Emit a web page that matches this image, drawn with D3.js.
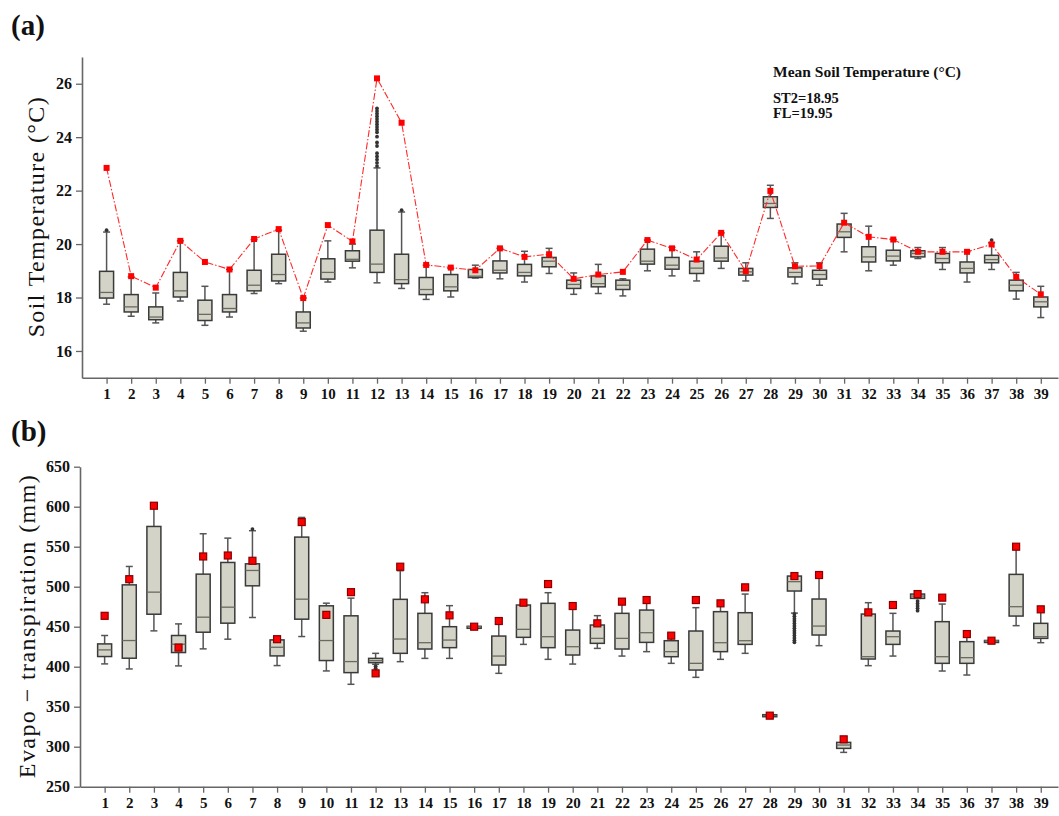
<!DOCTYPE html>
<html>
<head>
<meta charset="utf-8">
<script src="https://cdn.jsdelivr.net/npm/d3@7"></script>
<style>
  body { margin: 0; background: #fff; }
  svg { display: block; }
  text { font-family: "Liberation Serif", "Times New Roman", serif; }
</style>
</head>
<body>
<script>
// site numbers on x axis
var sites = d3.range(1, 40);

// (a) soil temperature box stats
var tLow  = [17.75,17.3,17.05,17.87,16.96,17.27,18.15,18.52,16.74,18.58,19.11,18.55,18.34,17.93,18.02,18.73,18.7,18.58,18.9,18.12,18.15,18.06,19.0,18.81,18.62,19.09,18.62,20.96,18.52,18.46,19.71,19.0,19.21,19.46,19.05,18.58,19.05,17.94,17.25];
var tQ1   = [17.98,17.46,17.17,18.02,17.14,17.46,18.25,18.62,16.86,18.69,19.36,18.94,18.52,18.11,18.25,18.75,18.92,18.81,19.15,18.34,18.4,18.3,19.25,19.06,18.9,19.36,18.84,21.37,18.77,18.69,20.25,19.33,19.37,19.52,19.3,18.92,19.3,18.25,17.65];
var tMed  = [18.19,17.65,17.27,18.25,17.37,17.59,18.46,18.86,17.05,18.94,19.43,19.25,18.67,18.3,18.4,18.8,19.02,18.94,19.36,18.49,18.52,18.46,19.36,19.21,19.1,19.48,18.96,21.52,18.94,18.86,20.46,19.52,19.55,19.65,19.46,19.09,19.42,18.46,17.84];
var tQ3   = [18.98,18.11,17.65,18.94,17.9,18.11,19.02,19.62,17.46,19.45,19.75,20.52,19.62,18.75,18.86,19.05,19.37,19.24,19.5,18.65,18.81,18.65,19.81,19.5,19.36,19.92,19.09,21.77,19.11,19.02,20.75,19.9,19.77,19.75,19.65,19.33,19.58,18.65,18.02];
var tHigh = [20.45,18.77,18.17,20.12,18.42,19.05,20.17,20.52,17.98,20.12,20.0,22.85,21.2,19.21,19.09,19.21,19.84,19.73,19.84,18.92,19.24,18.7,20.15,19.88,19.71,20.42,19.3,22.2,19.3,19.3,21.15,20.67,20.17,19.87,19.87,19.71,20.05,18.94,18.42];
var tMean = [22.85,18.8,18.37,20.12,19.33,19.05,20.19,20.56,17.98,20.71,20.1,26.2,24.54,19.22,19.12,19.02,19.84,19.52,19.62,18.7,18.86,18.96,20.15,19.84,19.42,20.42,18.98,21.99,19.17,19.18,20.8,20.27,20.17,19.71,19.71,19.71,19.99,18.77,18.12];
// outliers as [site, value]
var tOut = [[1,20.52],[13,21.27],[37,20.15],
  [12,25.08],[12,24.98],[12,24.88],[12,24.78],[12,24.68],[12,24.58],[12,24.48],[12,24.38],[12,24.28],[12,24.18],[12,24.02],
  [12,23.8],[12,23.67],[12,23.4],[12,23.28],[12,23.16],[12,23.04],[12,22.92]];

// (b) evapotranspiration box stats
var eLow  = [403.5,397.2,444.8,401,422.3,434.4,461.5,401.4,437.7,394.7,378,403,406.3,410.4,410.4,449,391.7,427.9,409.2,403.3,422.9,413.3,418.8,404.2,386.7,409.2,416.7,337,467,426.3,292.9,401.3,413.3,485.4,394.6,389.6,432,451.3,430];
var eQ1   = [412.7,410.6,465.6,417.7,443.1,454.4,501.1,413.5,459.4,407.7,392.6,405,416.7,422.1,423.8,449.5,402.1,436.7,423.8,414.6,429.2,422.1,430.4,412.5,395.8,418.8,427.9,338,494.6,439.6,297.9,409.6,427.9,485.4,404.2,404.2,432.2,463.3,435.4];
var eMed  = [421,432.7,493.2,428.1,461.9,474.4,520.3,424.3,484.4,432.7,406.4,407.5,434.6,430,433.3,450,413.3,446.7,437.5,425,435.4,435.4,442.5,418.8,404.2,430,432.5,339,506.3,450.8,302.1,412.5,437.5,488.3,412.5,411.3,432.5,475,437.5];
var eQ3   = [428.5,502.3,575.3,439,515.7,530.3,528.6,433.5,562,476.1,463.6,410.4,484.2,466.7,450,450.5,438.3,477.1,479.2,445.8,452.1,466.7,470.8,432.5,444.6,468.8,467.5,340,513.3,484.6,305.4,465.8,444.6,490.8,456.3,431.3,432.8,515.4,454.2];
var eHigh = [439,525.3,604.5,453.5,566.2,560.7,570,435,586.6,479.4,485.7,416.7,520,492.5,476.3,451,454.2,480,492.5,475.8,463.8,480,480,438.8,473.8,477.1,490.8,341,513.3,514.6,312.5,480,466.7,491.7,478.3,438.8,433,550,471.7];
var eMean = [463.6,509.4,601.2,423.9,537.8,539,532.4,434.4,580.8,464.8,493.2,391.7,525,484.2,464.2,450,457.1,480,503.3,475.8,454.2,481.3,483.3,438.8,483.3,479.2,499.2,338.8,513.3,514.6,309.2,467.9,477.1,490.8,486.3,440.8,432.5,550,471.7];
var eOut = [[7,572],[12,400.5],[12,398],
  [29,466],[29,463],[29,460],[29,457],[29,454],[29,451],[29,448],[29,445],[29,442],[29,439],[29,436],[29,433],[29,430.5],
  [34,482],[34,479],[34,476],[34,473],[34,470]];

var tTicks = [16, 18, 20, 22, 24, 26];
var eTicks = [250, 300, 350, 400, 450, 500, 550, 600, 650];

var W = 1059, H = 816;
var svg = d3.select("body").append("svg").attr("width", W).attr("height", H);

var boxFill = "#d3d3c7", boxLine = "#3a3a3a";

function panel(o) {
  var g = svg.append("g");
  var x = d3.scaleLinear().domain([0, 39.7]).range([o.left, 1058]);
  var y = d3.scaleLinear().domain(o.ydom).range([o.bottom, o.top]);

  // axes
  var xa = g.append("g").attr("transform", "translate(0," + o.bottom + ")")
    .call(d3.axisBottom(x).tickValues(sites).tickFormat(d3.format("d")).tickSize(6).tickSizeOuter(0).tickPadding(5));
  var ya = g.append("g").attr("transform", "translate(" + o.left + ",0)")
    .call(d3.axisLeft(y).tickValues(o.ticks).tickSize(6).tickSizeOuter(0).tickPadding(4));
  [xa, ya].forEach(function(a, k) {
    a.select(".domain").attr("stroke", "#666").attr("stroke-width", 1.6);
    a.selectAll(".tick line").attr("stroke", "#666").attr("stroke-width", 1.3);
    a.selectAll(".tick text").attr("fill", "#111").style("font-size", k ? "16px" : "15px").style("font-weight", "bold")
      .style("font-family", '"Liberation Serif", serif');
  });

  var bw = 14, cw = 7;
  var b = g.append("g").selectAll("g").data(sites).enter().append("g");
  var s = o.stats;
  // whiskers
  b.append("line").attr("x1", function(d) { return x(d); }).attr("x2", function(d) { return x(d); })
    .attr("y1", function(d, i) { return y(s.high[i]); }).attr("y2", function(d, i) { return y(s.low[i]); })
    .attr("stroke", "#555").attr("stroke-width", 1.5);
  b.append("line").attr("x1", function(d) { return x(d) - cw / 2; }).attr("x2", function(d) { return x(d) + cw / 2; })
    .attr("y1", function(d, i) { return y(s.high[i]); }).attr("y2", function(d, i) { return y(s.high[i]); })
    .attr("stroke", "#555").attr("stroke-width", 1.5);
  b.append("line").attr("x1", function(d) { return x(d) - cw / 2; }).attr("x2", function(d) { return x(d) + cw / 2; })
    .attr("y1", function(d, i) { return y(s.low[i]); }).attr("y2", function(d, i) { return y(s.low[i]); })
    .attr("stroke", "#555").attr("stroke-width", 1.5);
  // box
  b.append("rect").attr("x", function(d) { return x(d) - bw / 2; }).attr("width", bw)
    .attr("y", function(d, i) { return y(s.q3[i]); })
    .attr("height", function(d, i) { return Math.max(2, y(s.q1[i]) - y(s.q3[i])); })
    .attr("fill", boxFill).attr("stroke", boxLine).attr("stroke-width", 1.5);
  b.append("line").attr("x1", function(d) { return x(d) - bw / 2; }).attr("x2", function(d) { return x(d) + bw / 2; })
    .attr("y1", function(d, i) { return y(s.med[i]); }).attr("y2", function(d, i) { return y(s.med[i]); })
    .attr("stroke", "#6a6a60").attr("stroke-width", 1.3);

  // outliers
  g.append("g").selectAll("circle").data(o.out).enter().append("circle")
    .attr("cx", function(d) { return x(d[0]); }).attr("cy", function(d) { return y(d[1]); })
    .attr("r", 1.9).attr("fill", "#333");

  // means
  if (o.meanLine) {
    g.append("path").datum(sites)
      .attr("d", d3.line().x(function(d) { return x(d); }).y(function(d, i) { return y(s.mean[i]); }))
      .attr("fill", "none").attr("stroke", "#ff2a2a").attr("stroke-width", 1.1)
      .attr("stroke-dasharray", "7,2,1.5,2");
  }
  var ms = o.markSize;
  g.append("g").selectAll("rect").data(sites).enter().append("rect")
    .attr("x", function(d) { return x(d) - ms / 2; }).attr("y", function(d, i) { return y(s.mean[i]) - ms / 2; })
    .attr("width", ms).attr("height", ms)
    .attr("fill", "#f00").attr("stroke", o.markStroke).attr("stroke-width", o.markStroke === "none" ? 0 : 1.2);

  // y title
  svg.append("text")
    .attr("transform", "translate(" + o.titleX + "," + ((o.top + o.bottom) / 2) + ") rotate(-90)")
    .attr("text-anchor", "middle").attr("dominant-baseline", "central")
    .style("font-size", "24px").attr("fill", "#111")
    .attr("textLength", o.titleLen).attr("lengthAdjust", "spacing")
    .text(o.title);
  svg.append("text").attr("x", 11).attr("y", o.labelY)
    .style("font-size", "29px").style("font-weight", "bold").attr("fill", "#111")
    .text(o.label);
  return g;
}

panel({
  left: 82, top: 57, bottom: 377.7, ydom: [15, 27], ticks: tTicks,
  stats: { low: tLow, q1: tQ1, med: tMed, q3: tQ3, high: tHigh, mean: tMean },
  out: tOut, meanLine: true, markSize: 6, markStroke: "none",
  title: "Soil Temperature (°C)", titleX: 36, titleLen: 240, label: "(a)", labelY: 35
});

panel({
  left: 80, top: 466.7, bottom: 786.7, ydom: [250, 650], ticks: eTicks,
  stats: { low: eLow, q1: eQ1, med: eMed, q3: eQ3, high: eHigh, mean: eMean },
  out: eOut, meanLine: false, markSize: 7, markStroke: "#8a0000",
  title: "Evapo \u2212 transpiration (mm)", titleX: 27, titleLen: 303, label: "(b)", labelY: 441
});

// annotation in panel (a)
var note = svg.append("g").attr("fill", "#111").style("font-weight", "bold");
note.append("text").attr("x", 773).attr("y", 77).style("font-size", "15.5px").text("Mean Soil Temperature (°C)");
note.append("text").attr("x", 773).attr("y", 103).style("font-size", "14.5px").text("ST2=18.95");
note.append("text").attr("x", 773).attr("y", 117.5).style("font-size", "14.5px").text("FL=19.95");
</script>
</body>
</html>
